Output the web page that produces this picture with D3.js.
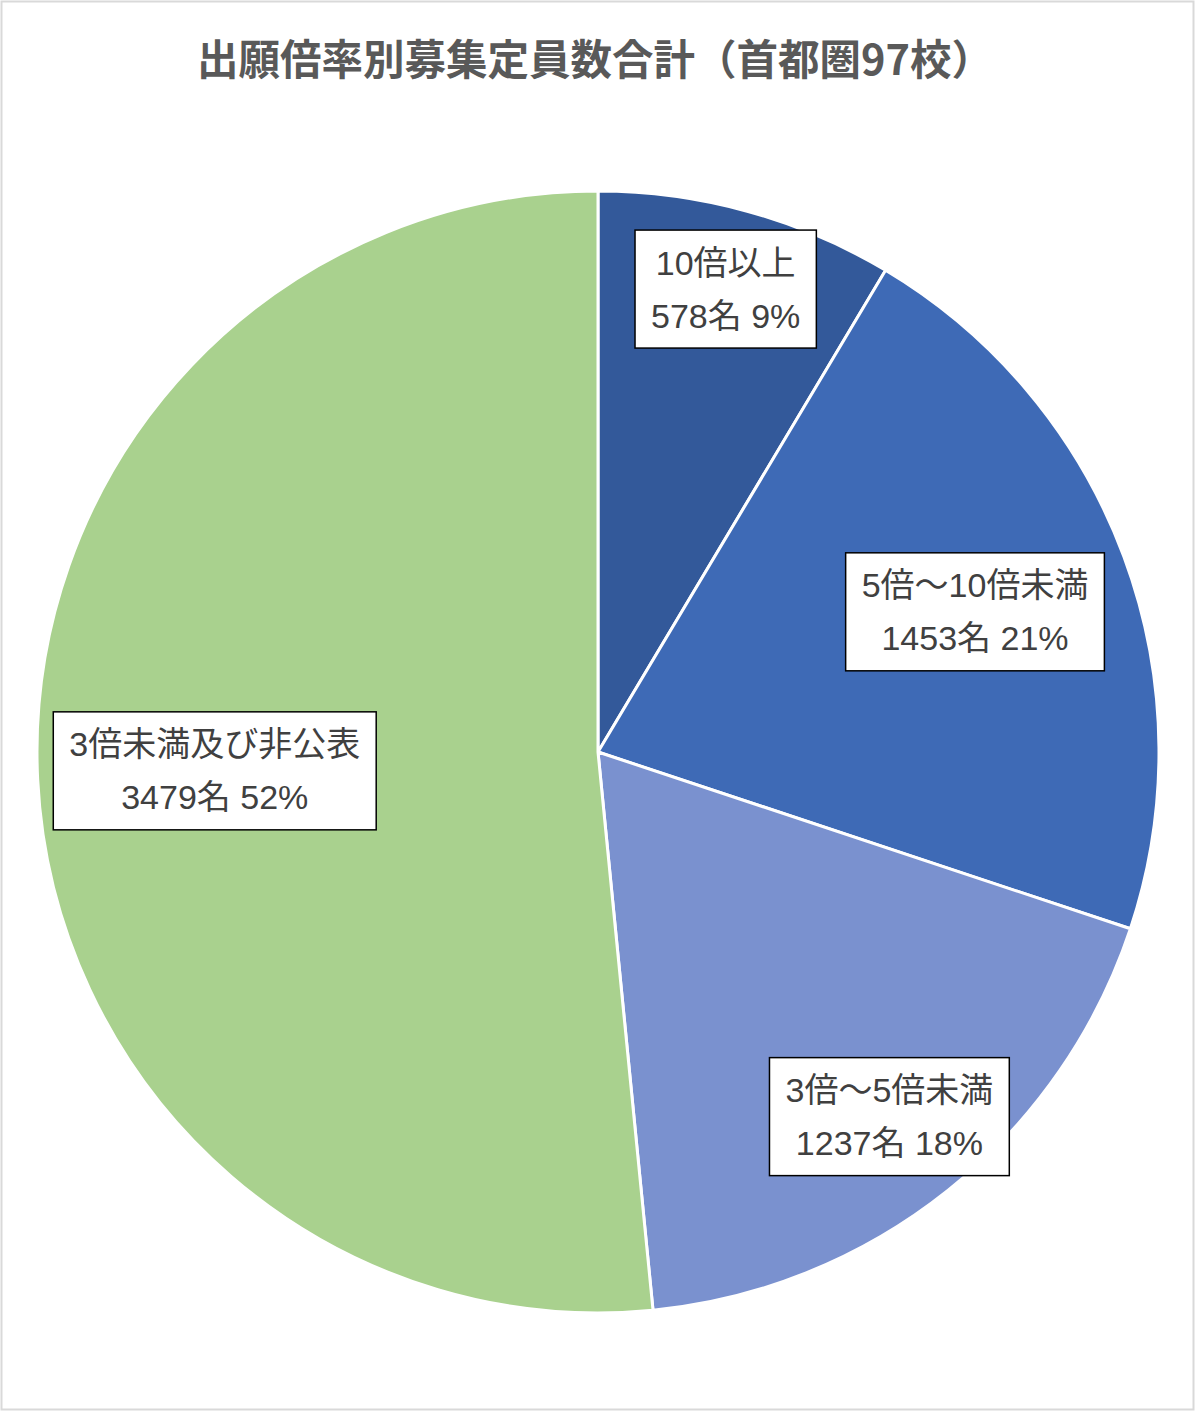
<!DOCTYPE html>
<html lang="ja">
<head>
<meta charset="UTF-8">
<title>出願倍率別募集定員数合計</title>
<script src="https://d3js.org/d3.v7.min.js"></script>
<style>
  body { margin: 0; background: #fff; }
  svg { display: block; }
  .title { font-family: "Noto Sans CJK JP", sans-serif; font-weight: 700; fill: #595959; }
  .lbl text { font-family: "Liberation Sans", "Noto Sans CJK JP", sans-serif; fill: #404040; }
</style>
</head>
<body>
<div id="chart"></div>
<script>
// chart data
const categories = ["10倍以上", "5倍～10倍未満", "3倍～5倍未満", "3倍未満及び非公表"];
const counts = [578, 1453, 1237, 3479];
const percents = ["9%", "21%", "18%", "52%"];   // as printed on the chart
const colors = ["#33599a", "#3e6ab6", "#7a91cf", "#a9d18e"];

// how far out (fraction of radius) each label box sits
const labelRadius = [0.856, 0.717, 0.832, 0.684];

const width = 1200, height = 1416;
const cx = 598, cy = 752, r = 561;

const svg = d3.select("#chart").append("svg")
    .attr("width", width)
    .attr("height", height);

svg.append("rect")
    .attr("x", 1.5).attr("y", 1.5)
    .attr("width", 1192).attr("height", 1408)
    .attr("fill", "#fff")
    .attr("stroke", "#d9d9d9")
    .attr("stroke-width", 2);

svg.append("text")
    .attr("class", "title")
    .attr("x", 595).attr("y", 75)
    .attr("text-anchor", "middle")
    .style("font-size", "41.5px")
    .text("出願倍率別募集定員数合計（首都圏97校）");

const data = categories.map((c, i) => ({ name: c, value: counts[i], pct: percents[i], color: colors[i], lr: labelRadius[i] }));

const pie = d3.pie().value(d => d.value).sort(null);
const arc = d3.arc().innerRadius(0).outerRadius(r);
const arcs = pie(data);

const g = svg.append("g").attr("transform", `translate(${cx},${cy})`);

g.selectAll("path.slice")
    .data(arcs)
    .enter().append("path")
    .attr("class", "slice")
    .attr("d", arc)
    .attr("fill", d => d.data.color)
    .attr("stroke", "#fff")
    .attr("stroke-width", 3)
    .attr("stroke-linejoin", "round");

// label boxes
const fs = 34, lineGap = 53, padX = 16;
const lbl = g.selectAll("g.lbl")
    .data(arcs)
    .enter().append("g")
    .attr("class", "lbl")
    .attr("transform", d => {
        const a = (d.startAngle + d.endAngle) / 2;
        const rr = r * d.data.lr;
        return `translate(${rr * Math.sin(a)},${-rr * Math.cos(a)})`;
    });

lbl.each(function(d) {
    const el = d3.select(this);
    const rect = el.append("rect");
    const t1 = el.append("text")
        .attr("text-anchor", "middle")
        .attr("y", -lineGap / 2 + 12)
        .style("font-size", fs + "px")
        .text(d.data.name);
    const t2 = el.append("text")
        .attr("text-anchor", "middle")
        .attr("y", lineGap / 2 + 12)
        .style("font-size", fs + "px")
        .text(`${d3.format("d")(d.data.value)}名 ${d.data.pct}`);
    const w = Math.max(t1.node().getComputedTextLength(), t2.node().getComputedTextLength()) + padX * 2;
    const h = 118;
    rect.attr("x", -w / 2).attr("y", -h / 2)
        .attr("width", w).attr("height", h)
        .attr("fill", "#fff")
        .attr("stroke", "#000")
        .attr("stroke-width", 1.5);
});
</script>
</body>
</html>
